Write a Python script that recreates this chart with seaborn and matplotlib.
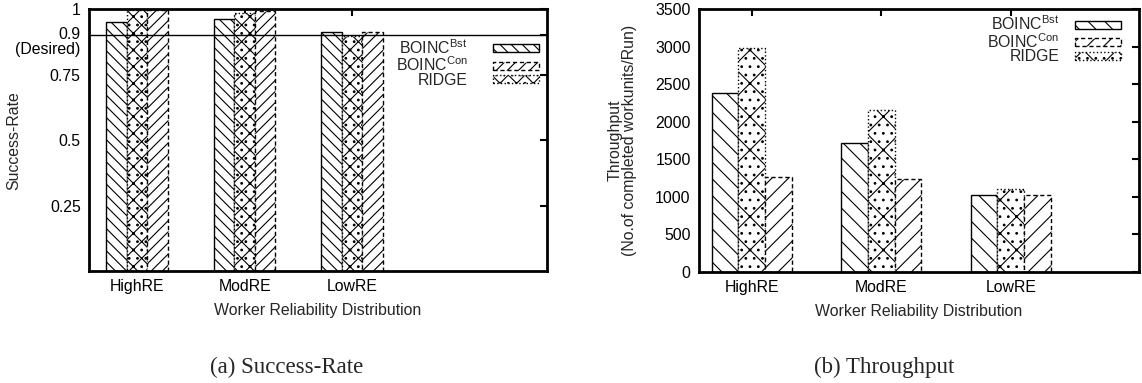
import matplotlib
matplotlib.use("Agg")
import matplotlib.pyplot as plt
import matplotlib.transforms as mtrans
import seaborn as sns
import pandas as pd

# ---- data ----
categories = ["HighRE", "ModRE", "LowRE"]
methods = ["BOINC-Bst", "RIDGE", "BOINC-Con"]
success_bst = [0.951, 0.964, 0.914]
success_ridge = [0.996, 0.987, 0.899]
success_con = [0.996, 0.992, 0.913]
thr_bst = [2380, 1720, 1025]
thr_ridge = [2990, 2165, 1105]
thr_con = [1265, 1235, 1025]
sr_ticks = [0.25, 0.5, 0.75, 0.9, 1.0]
sr_ticklabels = ["0.25", "0.5", "0.75", "0.9\n(Desired)", "1"]
thr_ticks = [0, 500, 1000, 1500, 2000, 2500, 3000, 3500]
legend_labels = [r"BOINC$^{\mathrm{Bst}}$", r"BOINC$^{\mathrm{Con}}$", "RIDGE"]

def frame(vals_b, vals_r, vals_c):
    rows = []
    for i, c in enumerate(categories):
        rows.append((c, methods[0], vals_b[i]))
        rows.append((c, methods[1], vals_r[i]))
        rows.append((c, methods[2], vals_c[i]))
    return pd.DataFrame(rows, columns=["dist", "method", "value"])

df_sr = frame(success_bst, success_ridge, success_con)
df_thr = frame(thr_bst, thr_ridge, thr_con)

sns.set_theme(style="white")
plt.rcParams["font.family"] = ["Liberation Sans", "DejaVu Sans"]
plt.rcParams["mathtext.fontset"] = "custom"
plt.rcParams["mathtext.rm"] = "Liberation Sans"
plt.rcParams["mathtext.it"] = "Liberation Sans:italic"
plt.rcParams["hatch.linewidth"] = 0.8
FS = 11.4

fig = plt.figure(figsize=(11.42, 3.83), dpi=100)
ax1 = fig.add_axes([89/1142, 1-271/383, (546.7-89)/1142, (271-9.3)/383])
ax2 = fig.add_axes([699/1142, 1-272/383, (1139-699)/1142, (272-9.3)/383])

styles = {
    methods[0]: dict(hatch="\\\\\\", ls="-"),
    methods[1]: dict(hatch="xx..", ls=":"),
    methods[2]: dict(hatch="///", ls=(0, (3, 2))),
}

def draw(ax, df, width, dense):
    sns.barplot(data=df, x="dist", y="value", hue="method", hue_order=methods,
                order=categories, palette=["white"] * 3, width=width,
                edgecolor="black", linewidth=1.0, errorbar=None, ax=ax,
                legend=False, saturation=1)
    for cont, m in zip(ax.containers, methods):
        st = styles[m]
        h = st["hatch"]
        if not dense:
            h = h[:2] if m != methods[1] else "x.."
        for p in cont:
            p.set_hatch(h)
            p.set_linestyle(st["ls"])
            p.set_edgecolor("black")
            p.set_facecolor("white")
    for s in ax.spines.values():
        s.set_linewidth(2.0)
        s.set_color("black")
    ax.tick_params(direction="in", length=5, width=1.5, top=True, right=True,
                   labelsize=FS, colors="black", pad=6)
    ax.set_xlabel("Worker Reliability Distribution", fontsize=FS, labelpad=6)
    conts = dict(zip(methods, ax.containers))
    return [conts[methods[0]], conts[methods[2]], conts[methods[1]]]

h1 = draw(ax1, df_sr, 0.57, True)
ax1.set_xlim(-0.447, 3.81)
ax1.set_ylim(0, 1)
ax1.set_yticks(sr_ticks)
ax1.set_yticklabels(sr_ticklabels)
ax1.axhline(0.9, color="black", lw=1.0)
ax1.set_ylabel("Success-Rate", fontsize=FS)
ax1.yaxis.set_label_coords(-0.147, 0.5)
for lab in ax1.get_yticklabels():
    if "Desired" in lab.get_text():
        lab.set_verticalalignment("top")
        lab.set_transform(lab.get_transform() +
                          mtrans.ScaledTranslation(0, 8/100, fig.dpi_scale_trans))
        lab.set_linespacing(0.95)

h2 = draw(ax2, df_thr, 0.62, False)
ax2.set_xlim(-0.407, 2.99)
ax2.set_ylim(0, 3500)
ax2.set_yticks(thr_ticks)
ax2.set_ylabel("Throughput\n(No.of completed workunits/Run)", fontsize=FS,
               linespacing=0.95)
ax2.yaxis.set_label_coords(-0.141, 0.5)

leg_kw = dict(frameon=False, markerfirst=False, fontsize=FS, handlelength=2.9,
              handleheight=0.4, labelspacing=-0.08, borderpad=0, borderaxespad=0,
              loc="upper right")
ax1.legend(h1, legend_labels, bbox_to_anchor=(0.983, 0.89), handletextpad=1.6, **leg_kw)
ax2.legend(h2, legend_labels, bbox_to_anchor=(0.959, 0.98), handletextpad=1.0, **leg_kw)

fig.text(287/1142, 1-367/383, "(a) Success-Rate", family="Liberation Serif",
         fontsize=16.5, ha="center", va="center")
fig.text(884/1142, 1-367/383, "(b) Throughput", family="Liberation Serif",
         fontsize=16.5, ha="center", va="center")

fig.savefig("out.png", dpi=100)
